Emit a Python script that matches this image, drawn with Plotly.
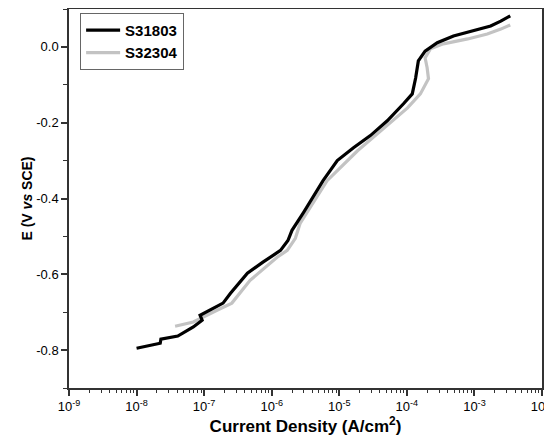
import plotly.graph_objects as go

# S31803 (black): log10 current density and potential (V vs SCE)
s31803_logi = [-8.00, -7.65, -7.64, -7.39, -7.16, -7.03, -7.06, -6.95, -6.72, -6.61, -6.36,
               -6.13, -5.87, -5.76, -5.70, -5.53, -5.33, -5.24, -5.03, -4.79, -4.54, -4.29,
               -4.05, -3.92, -3.87, -3.83, -3.73, -3.55, -3.31, -3.01, -2.76, -2.61, -2.47]
s31803_e = [-0.795, -0.782, -0.771, -0.763, -0.739, -0.721, -0.708, -0.697, -0.676, -0.650, -0.597,
            -0.568, -0.537, -0.511, -0.484, -0.437, -0.379, -0.353, -0.300, -0.266, -0.234, -0.195,
            -0.150, -0.124, -0.082, -0.037, -0.011, 0.011, 0.029, 0.042, 0.055, 0.068, 0.082]

# S32304 (grey)
s32304_logi = [-7.43, -7.16, -6.81, -6.59, -6.32, -5.92, -5.77, -5.65, -5.58, -5.36, -5.18,
               -4.73, -4.29, -3.99, -3.80, -3.68, -3.70, -3.73, -3.65, -3.46, -3.10, -2.81,
               -2.61, -2.47]
s32304_e = [-0.737, -0.726, -0.695, -0.676, -0.616, -0.555, -0.537, -0.505, -0.466, -0.405, -0.353,
            -0.274, -0.208, -0.161, -0.124, -0.084, -0.055, -0.029, -0.005, 0.008, 0.021, 0.034,
            0.047, 0.058]

x_decades = [-9, -8, -7, -6, -5, -4, -3, -2]
x_ticklabels = ["10<sup>%d</sup>" % d for d in x_decades]
y_ticks = [0.0, -0.2, -0.4, -0.6, -0.8]
y_ticklabels = ["0.0", "-0.2", "-0.4", "-0.6", "-0.8"]

x_major = [10.0 ** d for d in x_decades]
x_minor = [m * 10.0 ** d for d in x_decades[:-1] for m in range(2, 10)]

fig = go.Figure()
fig.add_trace(go.Scatter(x=[10 ** v for v in s32304_logi], y=s32304_e, mode="lines",
                         name="S32304", line=dict(color="#c3c3c3", width=3.2)))
fig.add_trace(go.Scatter(x=[10 ** v for v in s31803_logi], y=s31803_e, mode="lines",
                         name="S31803", line=dict(color="#000000", width=3.2)))

font = "Liberation Sans, Arial, sans-serif"
axis_col = "#333333"
fig.update_layout(
    width=544, height=433,
    margin=dict(l=61, r=10, t=0.5, b=53, autoexpand=False),
    paper_bgcolor="white", plot_bgcolor="white",
    font=dict(family=font, size=13, color="black"),
    showlegend=True,
    legend=dict(x=0.0235, y=0.99, xanchor="left", yanchor="top",
                traceorder="reversed",
                bordercolor="#666666", borderwidth=1, bgcolor="white",
                font=dict(size=15, family=font, color="black", weight="bold"),
                itemwidth=34, tracegroupgap=0),
    xaxis=dict(type="log", range=[-9, -2], automargin=False,
               tickmode="array", tickvals=x_major, ticktext=x_ticklabels,
               ticklabeloverflow="allow",
               ticks="outside", ticklen=6, tickwidth=1.5, tickcolor=axis_col,
               showline=True, linecolor=axis_col, linewidth=1.5, mirror=True,
               showgrid=False, zeroline=False,
               tickfont=dict(size=13),
               minor=dict(tickmode="array", tickvals=x_minor, ticks="outside",
                          ticklen=3, tickwidth=1, tickcolor=axis_col, showgrid=False),
               title=dict(text="Current Density (A/cm<sup>2</sup>)",
                          font=dict(size=17, weight="bold"), standoff=2)),
    yaxis=dict(range=[-0.9, 0.1], automargin=False,
               tickmode="array", tickvals=y_ticks, ticktext=y_ticklabels,
               ticks="outside", ticklen=6, tickwidth=1.5, tickcolor=axis_col,
               showline=True, linecolor=axis_col, linewidth=1.5, mirror=True,
               showgrid=False, zeroline=False,
               tickfont=dict(size=13),
               minor=dict(tickmode="array", tickvals=[0.1, -0.1, -0.3, -0.5, -0.7, -0.9],
                          ticks="outside", ticklen=4, tickwidth=1, tickcolor=axis_col,
                          showgrid=False),
               title=dict(text="E (V <i>vs</i> SCE)", font=dict(size=14, weight="bold"),
                          standoff=0)),
)

fig.write_html("out.html")
